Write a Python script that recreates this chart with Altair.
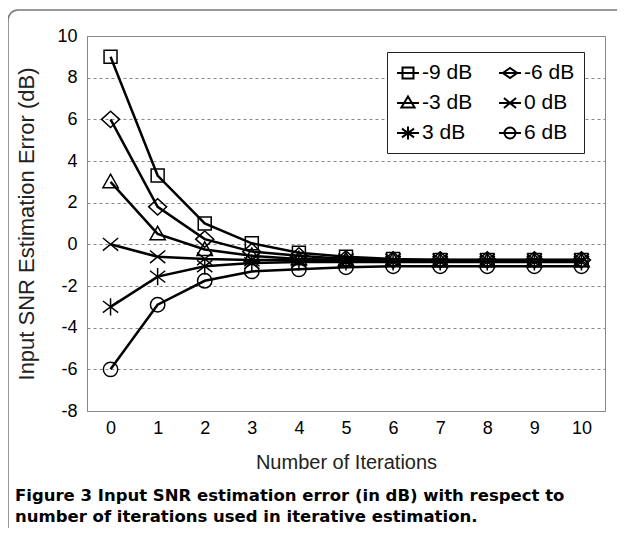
import altair as alt
import pandas as pd

iterations = list(range(11))
series_names = ["-9 dB", "-6 dB", "-3 dB", "0 dB", "3 dB", "6 dB"]
err_m9 = [9.0, 3.3, 1.0, 0.05, -0.4, -0.6, -0.7, -0.75, -0.75, -0.75, -0.75]
err_m6 = [6.0, 1.8, 0.25, -0.35, -0.55, -0.7, -0.75, -0.75, -0.75, -0.75, -0.75]
err_m3 = [3.0, 0.5, -0.25, -0.55, -0.7, -0.75, -0.75, -0.8, -0.8, -0.8, -0.8]
err_0 = [0.0, -0.6, -0.7, -0.75, -0.75, -0.75, -0.75, -0.75, -0.75, -0.75, -0.75]
err_p3 = [-3.0, -1.55, -1.05, -0.9, -0.85, -0.85, -0.85, -0.85, -0.85, -0.85, -0.85]
err_p6 = [-6.0, -2.9, -1.75, -1.3, -1.2, -1.1, -1.05, -1.05, -1.05, -1.05, -1.05]
y_ticks = list(range(-8, 11, 2))

caption_line1 = "Figure 3 Input SNR estimation error (in dB) with respect to"
caption_line2 = "number of iterations used in iterative estimation."

rows = []
for name, vals in zip(series_names, [err_m9, err_m6, err_m3, err_0, err_p3, err_p6]):
    for it, v in zip(iterations, vals):
        rows.append({"iter": it, "err": v, "series": name})
df = pd.DataFrame(rows)

marker_paths = {
    "-9 dB": "M-0.72,-0.72L0.72,-0.72L0.72,0.72L-0.72,0.72Z",
    "-6 dB": "M-1,0L0,-0.9L1,0L0,0.9Z",
    "-3 dB": "M0,-0.85L0.85,0.65L-0.85,0.65Z",
    "0 dB": "M-0.85,-0.7L0.85,0.7M0.85,-0.7L-0.85,0.7",
    "3 dB": "M-0.85,-0.65L0.85,0.65M0.85,-0.65L-0.85,0.65M0,-0.95L0,0.95",
    "6 dB": "M-0.8,0A0.8,0.8,0,1,1,0.8,0A0.8,0.8,0,1,1,-0.8,0Z",
}
legend_paths = {
    "-9 dB": "M-1,0L1,0M-0.5,-0.5L0.5,-0.5L0.5,0.5L-0.5,0.5Z",
    "-6 dB": "M-1,0L1,0M-0.65,0L0,-0.45L0.65,0L0,0.45Z",
    "-3 dB": "M-1,0L1,0M0,-0.6L0.6,0.4L-0.6,0.4Z",
    "0 dB": "M-1,0L1,0M-0.55,-0.45L0.55,0.45M0.55,-0.45L-0.55,0.45",
    "3 dB": "M-1,0L1,0M-0.55,-0.4L0.55,0.4M0.55,-0.4L-0.55,0.4M0,-0.6L0,0.6",
    "6 dB": "M-1,0L1,0M-0.5,0A0.5,0.5,0,1,1,0.5,0A0.5,0.5,0,1,1,-0.5,0Z",
}
# legend is laid out column by column: 3 rows x 2 columns
legend_order = ["-9 dB", "-3 dB", "3 dB", "-6 dB", "0 dB", "6 dB"]

AX_FONT = "Liberation Sans"
CAP_FONT = "DejaVu Sans"
FRAME = "#777"

x_enc = alt.X(
    "iter:Q",
    scale=alt.Scale(domain=[-0.5, 10.5], nice=False, zero=False),
    axis=alt.Axis(
        values=iterations, title="Number of Iterations", grid=False, ticks=False,
        domain=False, labelPadding=8, titlePadding=15, labelFontSize=18,
        titleFontSize=20, titleFontWeight="normal", labelColor="black",
        titleColor="#222", labelFont=AX_FONT, titleFont=AX_FONT,
    ),
)
y_enc = alt.Y(
    "err:Q",
    scale=alt.Scale(domain=[-8, 10], nice=False, zero=False),
    axis=alt.Axis(
        values=y_ticks, title="Input SNR Estimation Error (dB)", grid=True,
        gridDash=[3, 3], gridColor="#888", gridOpacity=1, ticks=False, domain=False,
        labelPadding=10, titlePadding=18, labelFontSize=18, titleFontSize=22,
        titleFontWeight="normal", labelColor="black", titleColor="#222",
        labelFont=AX_FONT, titleFont=AX_FONT, labelExpr="'' + datum.value",
    ),
)

one = pd.DataFrame({"k": [0]})

# figure frame: top and left edges with a rounded top-left corner
frame_top = alt.Chart(one).mark_rule(stroke=FRAME, strokeWidth=1.5).encode(
    x=alt.value(-69), x2=alt.value(530), y=alt.value(-26)
)
frame_left = alt.Chart(one).mark_rule(stroke=FRAME, strokeWidth=1.5).encode(
    x=alt.value(-79), y=alt.value(-16), y2=alt.value(492)
)
frame_corner = alt.Chart(one).mark_arc(
    radius=10, radius2=10, theta=4.712389, theta2=6.283185,
    stroke=FRAME, strokeWidth=1.5, fill="transparent"
).encode(x=alt.value(-69), y=alt.value(-16))

lines = alt.Chart(df).mark_line(color="black", strokeWidth=2.5).encode(
    x=x_enc, y=y_enc, detail="series:N"
)

points = alt.Chart(df).mark_point(
    filled=False, color="black", strokeWidth=1.5, size=324, opacity=1
).encode(
    x=x_enc, y=y_enc,
    shape=alt.Shape(
        "series:N",
        scale=alt.Scale(domain=series_names, range=[marker_paths[s] for s in series_names]),
        legend=None,
    ),
)

legend_layer = alt.Chart(df).transform_filter("datum.iter < -100").mark_point(
    filled=False, color="black", strokeWidth=2, opacity=1
).encode(
    x=x_enc, y=y_enc,
    shape=alt.Shape(
        "series:N",
        scale=alt.Scale(domain=legend_order, range=[legend_paths[s] for s in legend_order]),
        legend=alt.Legend(
            title=None, orient="none", legendX=300, legendY=16, columns=2,
            symbolSize=484, symbolStrokeWidth=2, symbolStrokeColor="black",
            symbolFillColor="transparent", labelFont=AX_FONT, labelFontSize=21,
            labelColor="black", labelOffset=2, rowPadding=8, columnPadding=22,
            padding=9, strokeColor="#222", fillColor="white", symbolOpacity=1,
            labelExpr="datum.label + '  '",
        ),
    ),
)

cap_l1 = alt.Chart(one).mark_text(
    text=caption_line1, font=CAP_FONT, fontWeight="bold", fontSize=16.5,
    align="left", baseline="middle", color="black"
).encode(x=alt.value(-72), y=alt.value(460))
cap_l2 = alt.Chart(one).mark_text(
    text=caption_line2, font=CAP_FONT, fontWeight="bold", fontSize=16.5,
    align="left", baseline="middle", color="black"
).encode(x=alt.value(-72), y=alt.value(481))

chart = alt.layer(
    frame_top, frame_left, frame_corner, lines, points, legend_layer, cap_l1, cap_l2
).resolve_scale(shape="independent").properties(
    width=518, height=375,
    padding={"left": 79, "top": 28, "right": 12, "bottom": 117},
    autosize="none",
).configure_view(stroke="#888", strokeWidth=1)

chart.save("out.html", embed_options={"renderer": "svg", "actions": False})
